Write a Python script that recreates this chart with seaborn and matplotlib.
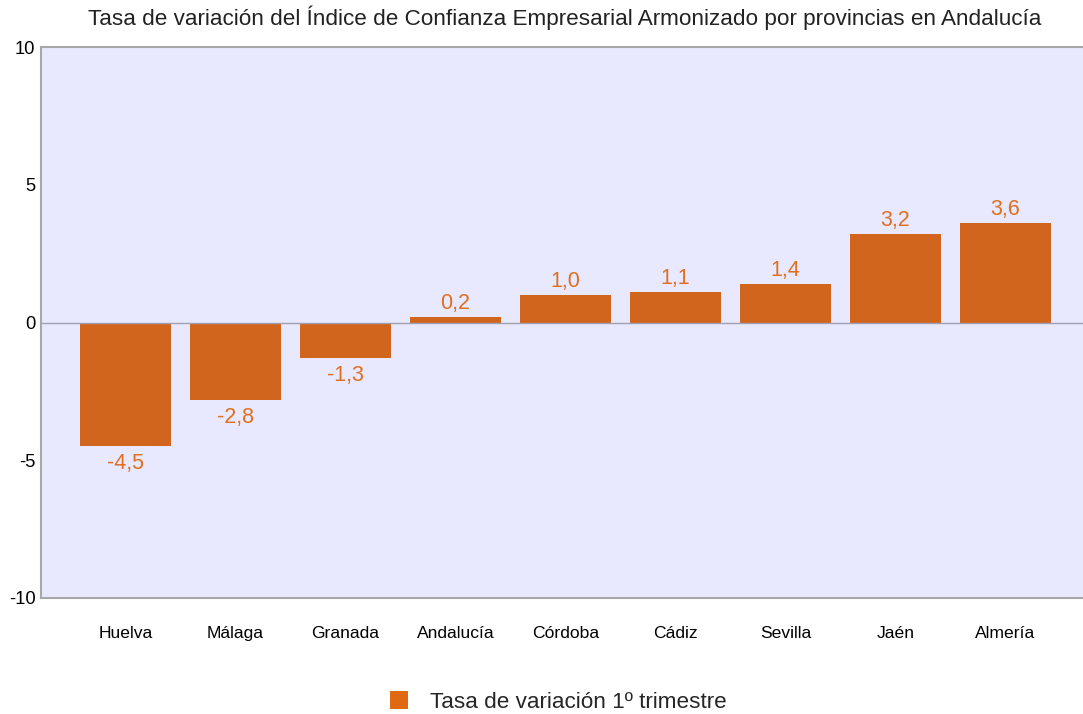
import matplotlib
matplotlib.use("Agg")
import matplotlib.pyplot as plt
import seaborn as sns
import pandas as pd
from matplotlib.patches import Patch

categories = ["Huelva", "Málaga", "Granada", "Andalucía", "Córdoba", "Cádiz", "Sevilla", "Jaén", "Almería"]
values = [-4.5, -2.8, -1.3, 0.2, 1.0, 1.1, 1.4, 3.2, 3.6]
labels = ["-4,5", "-2,8", "-1,3", "0,2", "1,0", "1,1", "1,4", "3,2", "3,6"]
yticks = [-10, -5, 0, 5, 10]
series_name = "Tasa de variación 1º trimestre"
title = "Tasa de variación del Índice de Confianza Empresarial Armonizado por provincias en Andalucía"

sns.set_style("white")
plt.rcParams["font.family"] = ["Liberation Sans", "DejaVu Sans"]

df = pd.DataFrame({"cat": categories, "val": values})

fig = plt.figure(figsize=(10.83, 7.14), dpi=100)
ax = fig.add_axes([41/1083, 1 - 598/714, 1 - 41/1083, (598 - 47)/714])
ax.set_facecolor("#E8E8FF")

bar_color = "#D2651E"
sns.barplot(data=df, x="cat", y="val", color=bar_color, saturation=1, width=0.83,
            ax=ax, zorder=3, edgecolor="none", linewidth=0)

ax.set_xlim(-0.768, 8.705)
ax.set_ylim(-10, 10)
ax.set_yticks(yticks)
ax.set_yticklabels([str(t) for t in yticks], fontsize=13.2)
ax.tick_params(axis="both", length=0, colors="black")
ax.tick_params(axis="x", labelsize=12.6, pad=20)
ax.tick_params(axis="y", pad=4)
ax.set_xlabel("")
ax.set_ylabel("")

for s in ["left", "top", "bottom"]:
    ax.spines[s].set_color("#A8A8A8")
    ax.spines[s].set_linewidth(1.5)
ax.spines["right"].set_visible(False)
ax.axhline(0, color="#A0A0B0", lw=1, zorder=4)

lab_color = "#E0701E"
for i, (v, t) in enumerate(zip(values, labels)):
    if v >= 0:
        ax.text(i, v + 0.12, t, ha="center", va="bottom", fontsize=15.5, color=lab_color)
    else:
        ax.text(i, v - 0.25, t, ha="center", va="top", fontsize=15.5, color=lab_color)

fig.text(565/1083, 1 - 18/714, title, ha="center", va="center", fontsize=16.2, color="#222222")

handle = Patch(facecolor="#E06A10", edgecolor="none")
fig.legend([handle], [series_name], loc="center", bbox_to_anchor=(0.5155, 1 - 702/714),
           frameon=False, fontsize=16.2, handlelength=0.8, handleheight=0.8, handletextpad=1.0)

fig.savefig("out.png", dpi=100)
